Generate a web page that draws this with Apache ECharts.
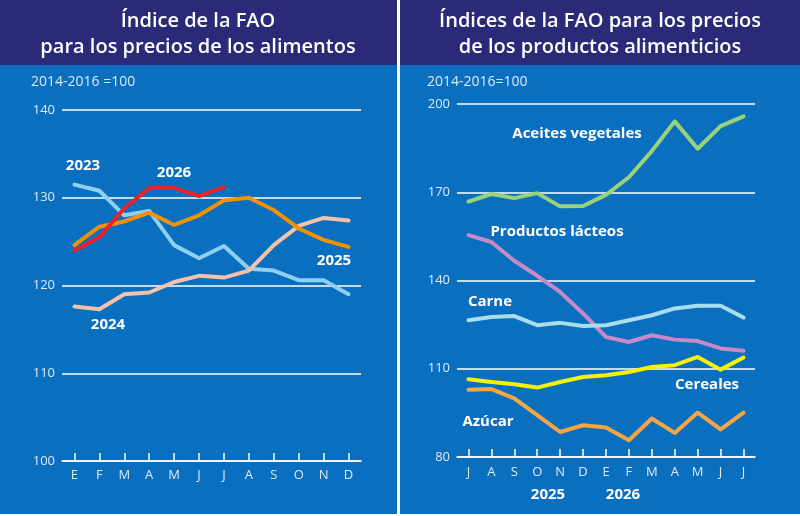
<!DOCTYPE html>
<html><head><meta charset="utf-8">
<script src="https://cdn.jsdelivr.net/npm/echarts@6/dist/echarts.min.js"></script>
<style>html,body{margin:0;padding:0;background:#fff}#c{width:800px;height:516px}</style>
</head><body><div id="c"></div><script>
// ---- Data ----
const monthsLeft = ['E','F','M','A','M','J','J','A','S','O','N','D'];
const monthsRight = ['J','A','S','O','N','D','E','F','M','A','M','J','J'];
const ticksLeft = [100,110,120,130,140];
const ticksRight = [80,110,140,170,200];

const y2023 = [131.5,130.8,128.0,128.5,124.6,123.1,124.5,121.9,121.7,120.6,120.6,119.0];
const y2024 = [117.6,117.3,119.0,119.2,120.4,121.1,120.9,121.7,124.6,126.8,127.7,127.4];
const y2025 = [124.6,126.7,127.3,128.3,126.9,128.0,129.7,130.0,128.6,126.5,125.2,124.4];
const y2026 = [124.0,125.5,128.8,131.1,131.1,130.2,131.2];

const aceites = [166.8,169.4,168.0,169.7,165.2,165.3,169.1,175.1,184.0,194.1,184.8,192.5,195.8];
const lacteos = [155.4,153.1,146.7,141.6,136.1,128.8,120.8,119.1,121.4,119.9,119.4,116.9,116.1];
const carne   = [126.5,127.6,127.9,124.8,125.6,124.5,124.8,126.5,128.2,130.5,131.4,131.4,127.4];
const cereales= [106.4,105.5,104.7,103.6,105.5,107.2,107.8,108.9,110.6,111.2,114.0,109.7,113.8];
const azucar  = [102.9,103.1,99.9,94.2,88.5,90.8,90.0,85.7,93.1,88.2,95.1,89.4,95.1];

// ---- Styling ----
const FONT = "'Open Sans', 'Noto Sans', sans-serif";
const NAVY = '#2a2a78';
const BLUE = '#0b6fbf';
const AXTXT = '#dce9f6';

const chart = echarts.init(document.getElementById('c'), null, {renderer:'canvas'});

function xAx(gridIndex, data, margin){
  return {
    type:'category', gridIndex, data, boundaryGap:true,
    axisLine:{show:true, lineStyle:{color:'#ffffff', width:1.5}},
    axisTick:{show:true, inside:true, alignWithLabel:true, length:8, lineStyle:{color:'#ffffff', width:1.5}},
    axisLabel:{color:AXTXT, fontFamily:FONT, fontSize:13, margin, interval:0},
    splitLine:{show:false}
  };
}
function yAx(gridIndex, min, max, interval){
  return {
    type:'value', gridIndex, min, max, interval,
    axisLine:{show:false}, axisTick:{show:false},
    axisLabel:{color:AXTXT, fontFamily:FONT, fontSize:13, margin:7},
    splitLine:{show:true, lineStyle:{color:'#ffffff', width:1.5}}
  };
}
function line(name, data, color, xi){
  return {
    name, type:'line', data, xAxisIndex:xi, yAxisIndex:xi,
    symbol:'none', smooth:false,
    lineStyle:{color, width:4, cap:'round', join:'round'},
    itemStyle:{color}, z:3
  };
}
function txt(x, y, text, size, weight, align, fill){
  return {type:'text', x, y, z:10, style:{text, fill:fill||'#ffffff', font:(weight||'bold')+' '+size+'px '+FONT, align:align||'center', verticalAlign:'middle'}};
}

chart.setOption({
  animation:false,
  backgroundColor:'#ffffff',
  graphic:[
    {type:'rect', shape:{x:0,y:0,width:397,height:514}, style:{fill:BLUE}, z:-10},
    {type:'rect', shape:{x:400,y:0,width:400,height:514}, style:{fill:BLUE}, z:-10},
    {type:'rect', shape:{x:0,y:0,width:397,height:65}, style:{fill:NAVY}, z:-9},
    {type:'rect', shape:{x:400,y:0,width:400,height:65}, style:{fill:NAVY}, z:-9},
    txt(198, 21, 'Índice de la FAO', 20, '600'),
    txt(198, 47, 'para los precios de los alimentos', 20, '600'),
    txt(600, 21, 'Índices de la FAO para los precios', 20, '600'),
    txt(600, 47, 'de los productos alimenticios', 20, '600'),
    txt(31, 82, '2014-2016 =100', 14, 'normal', 'left', AXTXT),
    txt(427, 82, '2014-2016=100', 14, 'normal', 'left', AXTXT),
    txt(83, 166, '2023', 15),
    txt(174, 173, '2026', 15),
    txt(334, 261, '2025', 15),
    txt(108, 325, '2024', 15),
    txt(577, 134, 'Aceites vegetales', 15),
    txt(557, 232, 'Productos lácteos', 15),
    txt(490, 302, 'Carne', 15),
    txt(707, 385, 'Cereales', 15),
    txt(488, 422, 'Azúcar', 15),
    txt(548, 495, '2025', 15),
    txt(623, 495, '2026', 15)
  ],
  grid:[
    {left:62, top:110, width:299, height:351},
    {left:457, top:104, width:298, height:353}
  ],
  xAxis:[xAx(0, monthsLeft, 8), xAx(1, monthsRight, 9)],
  yAxis:[yAx(0, ticksLeft[0], ticksLeft[ticksLeft.length-1], ticksLeft[1]-ticksLeft[0]),
         yAx(1, ticksRight[0], ticksRight[ticksRight.length-1], ticksRight[1]-ticksRight[0])],
  series:[
    line('2023', y2023, '#8fd0f2', 0),
    line('2024', y2024, '#f7c2aa', 0),
    line('2025', y2025, '#f39200', 0),
    line('2026', y2026, '#e8232a', 0),
    line('Aceites vegetales', aceites, '#98d37c', 1),
    line('Productos lácteos', lacteos, '#c68ac6', 1),
    line('Carne', carne, '#a9dde9', 1),
    line('Cereales', cereales, '#f6f200', 1),
    line('Azúcar', azucar, '#f6a545', 1)
  ]
});
</script></body></html>
